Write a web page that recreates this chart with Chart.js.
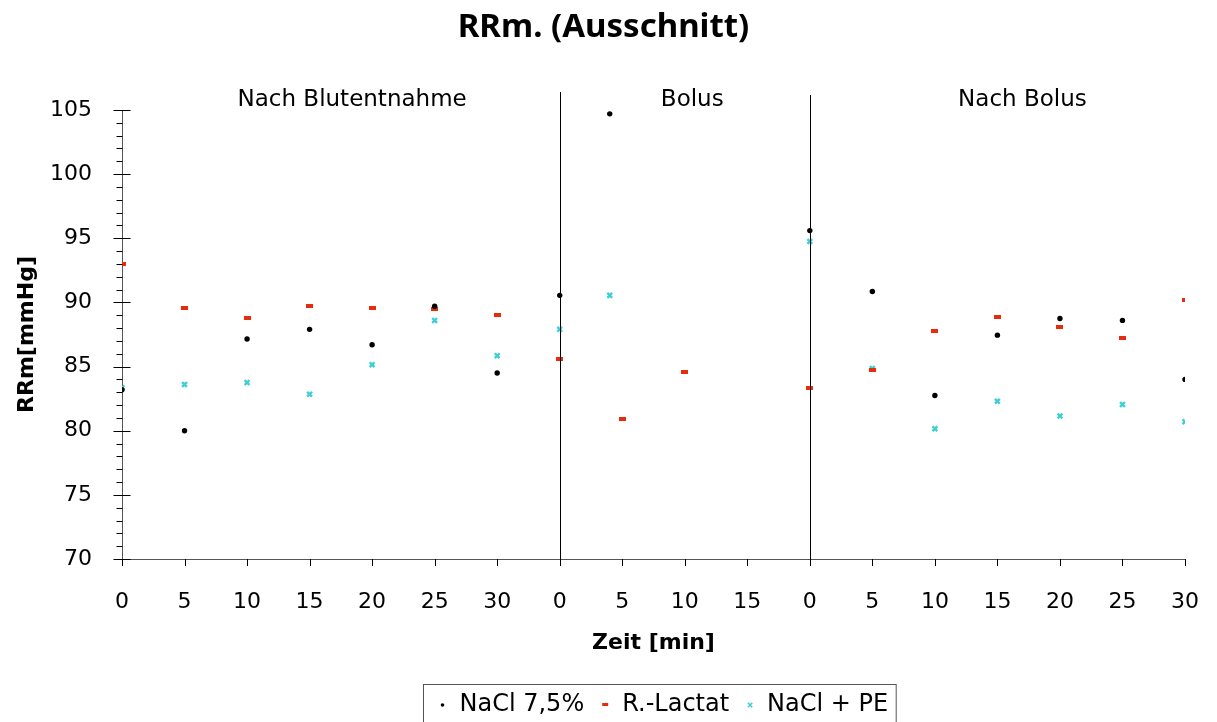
<!DOCTYPE html>
<html>
<head>
<meta charset="utf-8">
<title>RRm. (Ausschnitt)</title>
<script src="https://cdn.jsdelivr.net/npm/chart.js@4/dist/chart.umd.min.js"></script>
<style>
  html, body { margin: 0; padding: 0; background: #fff; overflow: hidden; }
  #wrap { width: 1217px; height: 722px; }
</style>
</head>
<body>
<div id="wrap"><canvas id="c" width="1217" height="722"></canvas></div>
<script>
// Phases of the experiment and where minute 0 of each sits on the time axis
const phaseNames = ['Nach Blutentnahme', 'Bolus', 'Nach Bolus'];
const phaseOffset = [0, 35, 55];

// Tick labels along the time axis (one every 5 axis units)
const xTickLabels = ['0', '5', '10', '15', '20', '25', '30',
                     '0', '5', '10', '15',
                     '0', '5', '10', '15', '20', '25', '30'];

// Measurement times per phase [min]
const blutTimes = [0, 5, 10, 15, 20, 25, 30];
const nachBolusTimes = [0, 5, 10, 15, 20, 25, 30];
const naclBolusTimes = [0, 4];
const lactatBolusTimes = [0, 5, 10];
const peBolusTimes = [0, 4];

// Mean arterial pressure RRm [mmHg] — NaCl 7,5%
const naclBlut = [83.2, 80.0, 87.15, 87.9, 86.7, 89.7, 84.5];
const naclBolus = [90.55, 104.7];
const naclNachBolus = [95.6, 90.85, 82.75, 87.45, 88.75, 88.6, 84.0];

// R.-Lactat
const lactatBlut = [93.0, 89.6, 88.75, 89.7, 89.6, 89.45, 89.0];
const lactatBolus = [85.6, 80.9, 84.6];
const lactatNachBolus = [83.35, 84.75, 87.75, 88.9, 88.05, 87.2, 90.2];

// NaCl + PE
const peBlut = [83.35, 83.6, 83.75, 82.85, 85.15, 88.6, 85.85];
const peBolus = [87.9, 90.55];
const peNachBolus = [94.75, 84.85, 80.15, 82.3, 81.15, 82.05, 80.7];

const seriesNames = ['NaCl 7,5%', 'R.-Lactat', 'NaCl + PE'];
const chartTitle = 'RRm. (Ausschnitt)';

function pts(phase, times, values) {
  return times.map((t, i) => ({ x: phaseOffset[phase] + t, y: values[i] }));
}

const RED = '#e62b0e';
const CYAN = '#3ccfd5';

// small horizontal dash used as the R.-Lactat marker
const dash = document.createElement('canvas');
dash.width = 7; dash.height = 4;
(function () { const g = dash.getContext('2d'); g.fillStyle = RED; g.fillRect(0, 0, 7, 4); })();

const FONT = '"DejaVu Sans", "Noto Sans", sans-serif';
const TITLE_FONT = '"Noto Sans", "DejaVu Sans", sans-serif';

const sectionPlugin = {
  id: 'sections',
  afterDatasetsDraw(chart) {
    const { ctx, chartArea, scales } = chart;
    const x = scales.x;
    ctx.save();
    // vertical separators between phases
    ctx.strokeStyle = '#000';
    ctx.lineWidth = 1;
    [phaseOffset[1], phaseOffset[2]].forEach((v, i) => {
      const px = Math.round(x.getPixelForValue(v)) + 0.5;
      ctx.beginPath();
      ctx.moveTo(px, chartArea.top - (i === 0 ? 18 : 15));
      ctx.lineTo(px, chartArea.bottom);
      ctx.stroke();
    });
    // phase captions
    const at = [18.4, 45.6, 72];
    ctx.fillStyle = '#000';
    ctx.font = '23px ' + FONT;
    ctx.textAlign = 'center';
    ctx.textBaseline = 'middle';
    phaseNames.forEach((n, i) => ctx.fillText(n, x.getPixelForValue(at[i]), chartArea.top - 10));
    ctx.restore();
  },
  afterDraw(chart) {
    const { ctx, chartArea, scales } = chart;
    const x = scales.x, y = scales.y;
    ctx.save();

    // chart title
    ctx.fillStyle = '#000';
    ctx.font = 'bold 33px ' + TITLE_FONT;
    ctx.textAlign = 'center';
    ctx.textBaseline = 'middle';
    ctx.fillText(chartTitle, (chartArea.left + chartArea.right) / 2 - 50, 28);

    ctx.strokeStyle = '#000';
    ctx.lineWidth = 1;
    // y-axis tick marks: majors cross the axis, minors on the left
    const ax = Math.round(chartArea.left) + 0.5;
    for (let v = y.min; v <= y.max; v += 1) {
      const py = Math.round(y.getPixelForValue(v)) + 0.5;
      ctx.beginPath();
      if (v % 5 === 0) { ctx.moveTo(ax - 9, py); ctx.lineTo(ax + 8, py); }
      else { ctx.moveTo(ax - 6, py); ctx.lineTo(ax, py); }
      ctx.stroke();
    }
    // x-axis tick marks
    const by = Math.round(chartArea.bottom);
    for (let v = x.min; v <= x.max; v += 5) {
      const px = Math.round(x.getPixelForValue(v)) + 0.5;
      ctx.beginPath(); ctx.moveTo(px, by); ctx.lineTo(px, by + 7); ctx.stroke();
    }

    // boxed legend below the axis title
    ctx.font = '24px ' + FONT;
    ctx.textBaseline = 'middle';
    ctx.textAlign = 'left';
    const padL = 19, mk2txt = 17, gap = 21, padR = 8;
    const widths = seriesNames.map(n => ctx.measureText(n).width);
    let total = padL + padR;
    widths.forEach((w, i) => { total += mk2txt + w + (i < widths.length - 1 ? gap : 0); });
    const cx = (chartArea.left + chartArea.right) / 2 + 6;
    const left = Math.round(cx - total / 2) + 0.5;
    const top = 684.5, ly = 705;
    ctx.strokeStyle = '#555';
    ctx.strokeRect(left, top, total, 60);
    let px = left + padL;
    seriesNames.forEach((n, i) => {
      if (i === 0) {
        ctx.fillStyle = '#000';
        ctx.beginPath(); ctx.arc(px, ly, 1.8, 0, Math.PI * 2); ctx.fill();
      } else if (i === 1) {
        ctx.fillStyle = RED; ctx.fillRect(px - 3, ly - 2, 6, 3);
      } else {
        ctx.strokeStyle = CYAN; ctx.lineWidth = 1.6;
        ctx.beginPath();
        ctx.moveTo(px - 2.2, ly - 2.2); ctx.lineTo(px + 2.2, ly + 2.2);
        ctx.moveTo(px + 2.2, ly - 2.2); ctx.lineTo(px - 2.2, ly + 2.2);
        ctx.stroke();
      }
      ctx.fillStyle = '#000';
      ctx.fillText(n, px + mk2txt, ly);
      px += mk2txt + widths[i] + gap;
    });
    ctx.restore();
  }
};

new Chart(document.getElementById('c'), {
  type: 'scatter',
  data: {
    datasets: [
      {
        label: seriesNames[0],
        data: [...pts(0, blutTimes, naclBlut), ...pts(1, naclBolusTimes, naclBolus), ...pts(2, nachBolusTimes, naclNachBolus)],
        pointStyle: 'circle', pointRadius: 2.7, backgroundColor: '#000', borderWidth: 0
      },
      {
        label: seriesNames[1],
        data: [...pts(0, blutTimes, lactatBlut), ...pts(1, lactatBolusTimes, lactatBolus), ...pts(2, nachBolusTimes, lactatNachBolus)],
        pointStyle: dash, pointRadius: 3
      },
      {
        label: seriesNames[2],
        data: [...pts(0, blutTimes, peBlut), ...pts(1, peBolusTimes, peBolus), ...pts(2, nachBolusTimes, peNachBolus)],
        pointStyle: 'crossRot', pointRadius: 3.4, borderColor: CYAN, borderWidth: 2.4, backgroundColor: CYAN
      }
    ]
  },
  options: {
    responsive: false,
    animation: false,
    devicePixelRatio: 1,
    layout: { padding: { left: 0, right: 32, top: 110, bottom: 63 } },
    plugins: {
      legend: { display: false },
      tooltip: { enabled: false },
      title: { display: false }
    },
    scales: {
      x: {
        type: 'linear', min: 0, max: 85,
        grid: { display: false },
        border: { display: true, color: '#555', width: 1 },
        ticks: {
          stepSize: 5, autoSkip: false, maxRotation: 0, padding: 22, color: '#000',
          font: { family: FONT, size: 22 },
          callback: v => xTickLabels[Math.round(v / 5)]
        },
        title: {
          display: true, text: 'Zeit [min]', color: '#000',
          font: { family: FONT, size: 22, weight: 'bold', lineHeight: 1.2 },
          padding: { top: 0, bottom: 3 }
        },
        afterFit: s => { s.height = 100; s.paddingLeft = 0; s.paddingRight = 0; }
      },
      y: {
        min: 70, max: 105,
        grid: { display: false },
        border: { display: true, color: '#555', width: 1 },
        ticks: {
          stepSize: 5, padding: 22, color: '#000',
          font: { family: FONT, size: 22 }
        },
        title: {
          display: true, text: 'RRm[mmHg]', color: '#000',
          font: { family: FONT, size: 22, weight: 'bold', lineHeight: 1.2 },
          padding: { top: 14, bottom: 0 }
        },
        afterFit: s => { s.width = 122; s.paddingTop = 0; s.paddingBottom = 0; }
      }
    }
  },
  plugins: [sectionPlugin]
});
</script>
</body>
</html>
